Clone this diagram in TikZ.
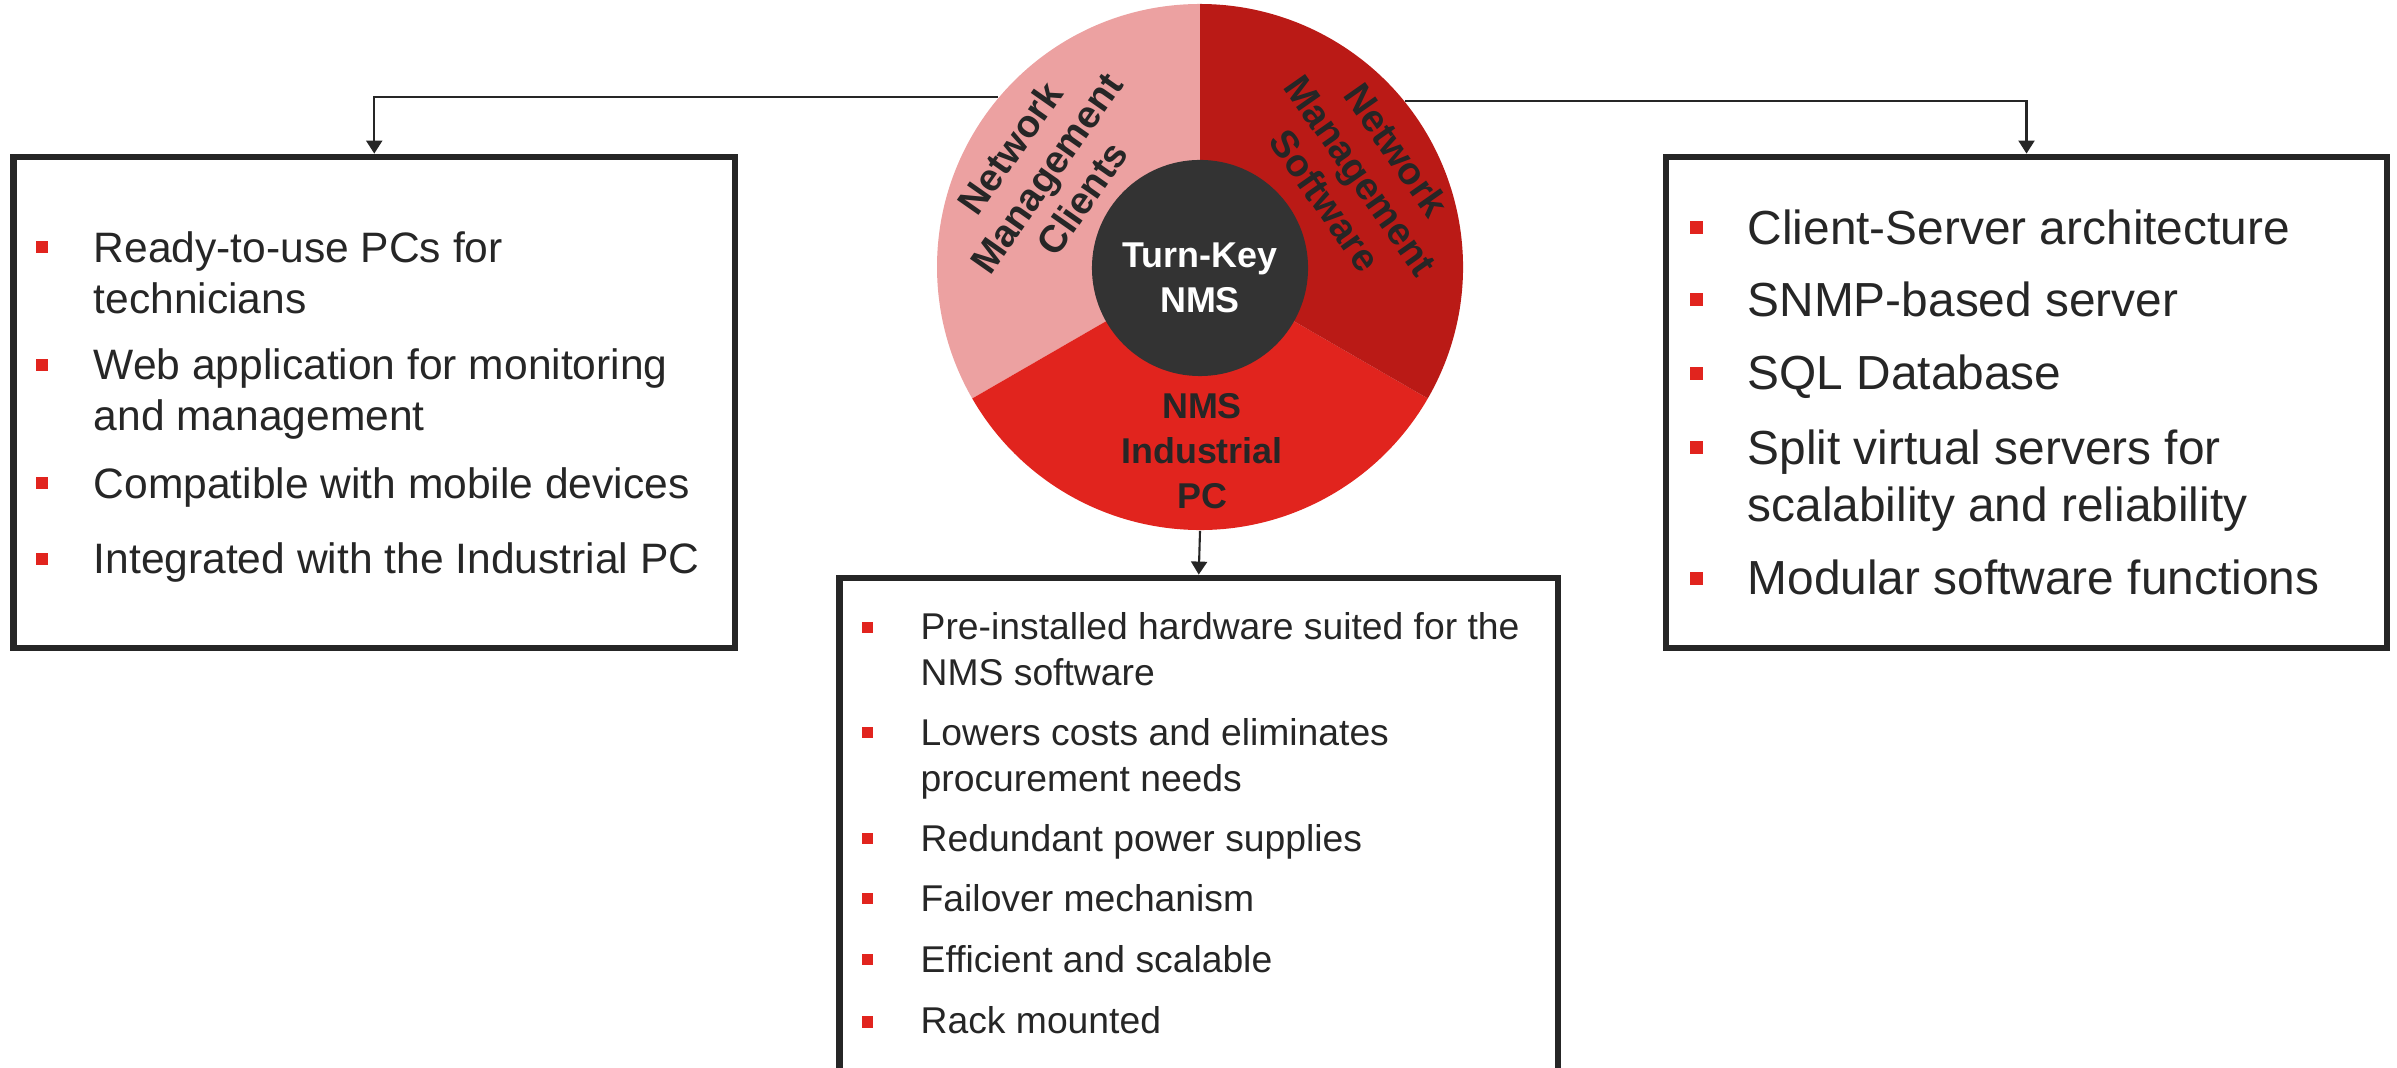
\documentclass[tikz,border=0pt]{standalone}
\usepackage{fontspec}
\setmainfont{Liberation Sans}
\usetikzlibrary{arrows.meta}
\definecolor{txt}{HTML}{262626}
\definecolor{pinkc}{HTML}{ECA1A1}
\definecolor{darkredc}{HTML}{BA1A16}
\definecolor{redc}{HTML}{E1241E}
\definecolor{hubc}{HTML}{333333}
\definecolor{bulred}{HTML}{E1241E}
\newcommand{\lst}[1]{\begin{tabular}[t]{@{}l@{}}#1\end{tabular}}
\newcommand{\cst}[1]{\begin{tabular}[t]{@{}c@{}}#1\end{tabular}}
\newcommand{\mst}[1]{\begin{tabular}{@{}c@{}}#1\end{tabular}}
\tikzset{
  infobox/.style={draw=txt, line width=1.85pt, rectangle, inner sep=0pt},
  sqbul/.style={fill=bulred, inner sep=0pt, minimum size=#1},
  itemL/.style={anchor=base west, inner sep=0pt, text=txt, font=\fontsize{12.1pt}{14.5pt}\selectfont},
  itemR/.style={anchor=base west, inner sep=0pt, text=txt, font=\fontsize{13.6pt}{16.2pt}\selectfont},
  itemB/.style={anchor=base west, inner sep=0pt, text=txt, font=\fontsize{10.6pt}{12.8pt}\selectfont},
  seglabel/.style={inner sep=0pt, text=txt, font=\bfseries\fontsize{10.9pt}{12.5pt}\selectfont},
  conn/.style={draw=txt, line width=0.6pt, -{Triangle[width=0.16cm,length=0.13cm]}},
}
\begin{document}
\begin{tikzpicture}[x=0.01cm,y=0.01cm]
\useasboundingbox (0,0) rectangle (2397,-1068);
\clip (0,0) rectangle (2397,-1068);
% pie
\node[circle, minimum size=5.26cm, inner sep=0pt] (circ) at (1200,-267) {};
\fill[pinkc] (circ.center) -- ++(90:263) arc[start angle=90,end angle=210,radius=263] -- cycle;
\fill[redc] (circ.center) -- ++(210:263) arc[start angle=210,end angle=330,radius=263] -- cycle;
\fill[darkredc] (circ.center) -- ++(330:263) arc[start angle=330,end angle=450,radius=263] -- cycle;
\node[circle, fill=hubc, minimum size=2.16cm, inner sep=0pt] (hub) at (1200,-268) {};
\node[anchor=base, inner sep=0pt, text=white, font=\bfseries\fontsize{10.2pt}{12.8pt}\selectfont] (hubtxt) at (1200,-268) {\cst{Turn-Key\\NMS}};
\node[seglabel, rotate=55] (lseg) at (1050,-176) {\mst{Network\\Management\\Clients}};
\node[seglabel, rotate=-55] (rseg) at (1357,-178) {\mst{Network\\Management\\Software}};
\node[anchor=base, inner sep=0pt, text=txt, font=\bfseries\fontsize{10.2pt}{12.7pt}\selectfont] (bseg) at (1202,-419) {\cst{NMS\\Industrial\\PC}};
% boxes
\node[infobox, minimum width=7.215cm, minimum height=4.91cm] (lbox) at (374.25,-402.5) {};
\node[infobox, minimum width=7.21cm, minimum height=4.91cm] (rbox) at (2026.5,-402.5) {};
\node[infobox, minimum width=7.185cm, minimum height=5.12cm] (bbox) at (1198.75,-834) {};
% connectors
\draw[conn] (circ.140.3) -| (lbox.north);
\draw[conn] (circ.39.7) -| (rbox.north);
\draw[conn] (circ.south) -- (bbox.north);
% left items
\node[sqbul=0.12cm] (lb1) at (42,-247) {};
\node[itemL] (lt1) at (93,-263) {\lst{Ready-to-use PCs for\\technicians}};
\node[sqbul=0.12cm] (lb2) at (42,-365) {};
\node[itemL] (lt2) at (93,-380) {\lst{Web application for monitoring\\and management}};
\node[sqbul=0.12cm] (lb3) at (42,-483) {};
\node[itemL] (lt3) at (93,-499) {\lst{Compatible with mobile devices}};
\node[sqbul=0.12cm] (lb4) at (42,-559) {};
\node[itemL] (lt4) at (93,-574) {\lst{Integrated with the Industrial PC}};
% right items
\node[sqbul=0.13cm] (rb1) at (1696,-228) {};
\node[itemR] (rt1) at (1747,-245) {\lst{Client-Server architecture}};
\node[sqbul=0.13cm] (rb2) at (1696,-300) {};
\node[itemR] (rt2) at (1747,-317) {\lst{SNMP-based server}};
\node[sqbul=0.13cm] (rb3) at (1696,-374) {};
\node[itemR] (rt3) at (1747,-390) {\lst{SQL Database}};
\node[sqbul=0.13cm] (rb4) at (1696,-448) {};
\node[itemR] (rt4) at (1747,-465) {\lst{Split virtual servers for\\scalability and reliability}};
\node[sqbul=0.13cm] (rb5) at (1696,-579) {};
\node[itemR] (rt5) at (1747,-595) {\lst{Modular software functions}};
% bottom items
\node[sqbul=0.11cm] (bb1) at (867,-628) {};
\node[itemB] (bt1) at (920,-640) {\lst{Pre-installed hardware suited for the\\NMS software}};
\node[sqbul=0.11cm] (bb2) at (867,-733) {};
\node[itemB] (bt2) at (920,-746) {\lst{Lowers costs and eliminates\\procurement needs}};
\node[sqbul=0.11cm] (bb3) at (867,-839) {};
\node[itemB] (bt3) at (920,-852) {\lst{Redundant power supplies}};
\node[sqbul=0.11cm] (bb4) at (867,-899) {};
\node[itemB] (bt4) at (920,-912) {\lst{Failover mechanism}};
\node[sqbul=0.11cm] (bb5) at (867,-960) {};
\node[itemB] (bt5) at (920,-973) {\lst{Efficient and scalable}};
\node[sqbul=0.11cm] (bb6) at (867,-1022) {};
\node[itemB] (bt6) at (920,-1034) {\lst{Rack mounted}};
\end{tikzpicture}
\end{document}
